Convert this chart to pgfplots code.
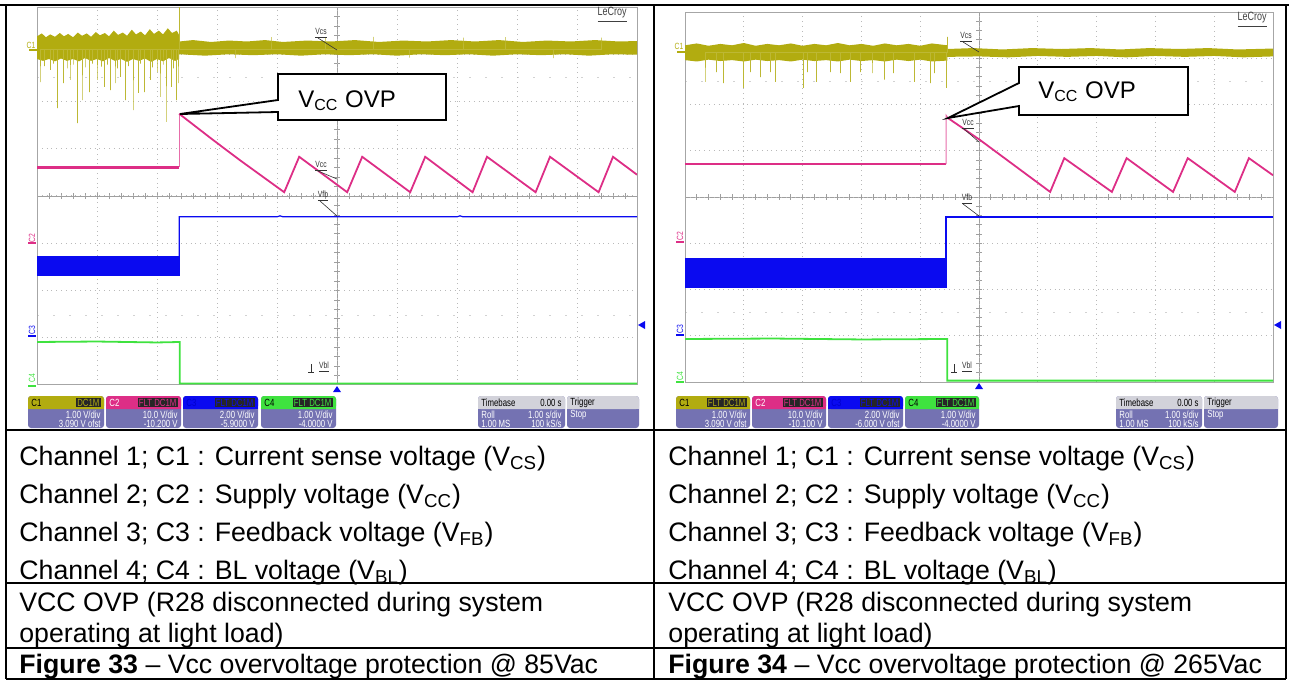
\documentclass[border=0pt]{standalone}
\usepackage{fontspec}
\setmainfont{Liberation Sans}
\newfontfamily\narrowfont{Liberation Sans}[FakeStretch=0.75]
\usepackage{pgfplots}
\pgfplotsset{compat=1.18}

\definecolor{colive}{HTML}{B2AC10}
\definecolor{cmag}{HTML}{DD2E86}
\definecolor{cblue}{HTML}{0A0AF0}
\definecolor{cgreen}{HTML}{3FE23F}
\definecolor{boxbody}{HTML}{7472B2}
\definecolor{boxhead}{HTML}{D2D2DA}

\newcommand\boxfont{\narrowfont\fontsize{5.2}{6}\selectfont}
\newcommand\lblfont{\narrowfont\fontsize{4.5}{5}\selectfont}
\newcommand\tabfont{\fontsize{13.35}{16}\selectfont}

% channel box: left, right, colour, name, name colour, badge, line 1, line 2
\newcommand\chbox[8]{%
  \fill[boxbody, rounded corners=1.5pt] (#1,396) rectangle (#2,428);
  \fill[#3, rounded corners=1.5pt] (#1,396) rectangle (#2,409);
  \fill[#3] (#1,403) rectangle (#2,409);
  \node[anchor=west, inner sep=0pt, text=#5, font=\boxfont] at ({#1+3},402.5) {#4};
  \node[anchor=east, inner sep=0.6pt, fill=black!85, text=#3, font=\boxfont] at ({#2-3},402.5) {#6};
  \node[anchor=east, inner sep=0pt, text=white, font=\boxfont] at ({#2-3},414.5) {#7};
  \node[anchor=east, inner sep=0pt, text=white, font=\boxfont] at ({#2-3},423.5) {#8};
}
% timebase + trigger boxes: timebase left, right, trigger left, right
\newcommand\tbbox[4]{%
  \fill[boxbody, rounded corners=1.5pt] (#1,396) rectangle (#2,428);
  \fill[boxhead, rounded corners=1.5pt] (#1,396) rectangle (#2,409);
  \fill[boxhead] (#1,403) rectangle (#2,409);
  \node[anchor=west, inner sep=0pt, font=\boxfont] at ({#1+3},402.5) {Timebase};
  \node[anchor=east, inner sep=0pt, font=\boxfont] at ({#2-3},402.5) {0.00 s};
  \node[anchor=west, inner sep=0pt, text=white, font=\boxfont] at ({#1+3},414.5) {Roll};
  \node[anchor=east, inner sep=0pt, text=white, font=\boxfont] at ({#2-3},414.5) {1.00 s/div};
  \node[anchor=west, inner sep=0pt, text=white, font=\boxfont] at ({#1+3},423.5) {1.00 MS};
  \node[anchor=east, inner sep=0pt, text=white, font=\boxfont] at ({#2-3},423.5) {100 kS/s};
  \fill[boxbody, rounded corners=1.5pt] (#3,396) rectangle (#4,428);
  \fill[boxhead, rounded corners=1.5pt] (#3,396) rectangle (#4,409);
  \fill[boxhead] (#3,403) rectangle (#4,409);
  \node[anchor=west, inner sep=0pt, font=\boxfont] at ({#3+3},402.5) {Trigger};
  \node[anchor=west, inner sep=0pt, text=white, font=\boxfont] at ({#3+3},414.5) {Stop};
}

\pgfplotsset{
  scopegrid/.style={
    scale only axis, anchor=north west,
    xmin=0, xmax=10, ymin=0, ymax=8,
    xtick={0,...,10}, ytick={0,...,8},
    xticklabels={}, yticklabels={},
    major tick length=0pt,
    grid=major,
    major grid style={gray!55, dotted, line width=0.5pt},
    axis line style={gray!70, line width=0.5pt},
  },
}

\begin{document}
\begin{tikzpicture}
\path[use as bounding box] (0,0) rectangle (644.5pt,-340.5pt);

% ---------- background decorations in pixel units ----------
\begin{scope}[x=0.5pt, y=-0.5pt]
  % centre axes with small ticks, scope 1
  \draw[gray!75, line width=0.5pt] (37,196) -- (637,196) (337,7) -- (337,385);
  \foreach \i in {1,...,49} \draw[gray!75, line width=0.4pt] ({37+12*\i},193) -- ({37+12*\i},199);
  \foreach \i in {1,...,39} \draw[gray!75, line width=0.4pt] (334,{7+9.45*\i}) -- (340,{7+9.45*\i});
  \draw[gray!35, dash pattern=on 1pt off 7pt] (37,77) -- (637,77) (37,315) -- (637,315);
  % centre axes, scope 2
  \draw[gray!75, line width=0.5pt] (685,197) -- (1273,197) (979,12) -- (979,382);
  \foreach \i in {1,...,49} \draw[gray!75, line width=0.4pt] ({685+11.76*\i},194) -- ({685+11.76*\i},200);
  \foreach \i in {1,...,39} \draw[gray!75, line width=0.4pt] (976,{12+9.25*\i}) -- (982,{12+9.25*\i});
  \draw[gray!35, dash pattern=on 1pt off 7pt] (685,81) -- (1273,81) (685,312) -- (1273,312);
\end{scope}

% ---------- scope 1 : 85 Vac ----------
\begin{axis}[scopegrid, at={(18.5pt,-3.5pt)}, width=300pt, height=189pt]
  % C1 current sense band
  \addplot[fill=colive, draw=none] coordinates {
    (0,7.38)(0.08,7.44)(0.15,7.36)(0.22,7.42)(0.3,7.37)(0.38,7.45)(0.45,7.38)(0.52,7.43)
    (0.6,7.36)(0.68,7.46)(0.75,7.39)(0.83,7.44)(0.9,7.37)(0.98,7.47)(1.05,7.4)(1.13,7.45)
    (1.2,7.38)(1.28,7.5)(1.35,7.41)(1.43,7.46)(1.5,7.39)(1.58,7.52)(1.65,7.42)(1.73,7.48)
    (1.8,7.4)(1.88,7.53)(1.95,7.43)(2.03,7.5)(2.1,7.42)(2.18,7.55)(2.25,7.45)(2.33,7.5)(2.37,7.4)
    (2.37,7.27)(2.6,7.3)(2.9,7.26)(3.2,7.29)(3.5,7.27)(3.8,7.3)(4.1,7.26)(4.5,7.29)(4.9,7.27)
    (5.3,7.3)(5.7,7.26)(6.1,7.29)(6.5,7.27)(6.9,7.3)(7.3,7.27)(7.7,7.3)(8.1,7.26)(8.5,7.29)
    (8.9,7.27)(9.3,7.3)(9.7,7.27)(10,7.28)
    (10,6.99)(9.6,7.0)(9.2,6.97)(8.8,7.0)(8.4,6.98)(8.0,7.0)(7.6,6.97)(7.2,7.0)(6.8,6.98)
    (6.4,7.0)(6.0,6.97)(5.6,7.0)(5.2,6.98)(4.8,7.0)(4.4,6.97)(4.0,7.0)(3.6,6.98)(3.2,7.0)
    (2.8,6.97)(2.37,7.0)
    (2.37,6.9)(2.3,6.86)(2.2,6.92)(2.1,6.85)(2.0,6.9)(1.9,6.84)(1.8,6.91)(1.7,6.86)(1.6,6.9)
    (1.5,6.84)(1.4,6.9)(1.3,6.86)(1.2,6.92)(1.1,6.85)(1.0,6.9)(0.9,6.86)(0.8,6.92)(0.7,6.85)
    (0.6,6.9)(0.5,6.86)(0.4,6.91)(0.3,6.85)(0.2,6.9)(0.1,6.86)(0,6.9)
  } -- cycle;
  % C1 spikes
  \addplot[colive!85, line width=0.45pt] coordinates {
    (0.05,7.1)(0.05,6.41)(0.05,7.1)(0.12,7.1)(0.12,6.75)(0.12,7.1)(0.217,7.1)(0.217,6.67)(0.217,7.1)
    (0.28,7.1)(0.28,6.8)(0.28,7.1)(0.333,7.1)(0.333,5.86)(0.333,7.1)(0.433,7.1)(0.433,6.39)(0.433,7.1)
    (0.5,7.1)(0.5,6.7)(0.5,7.1)(0.55,7.1)(0.55,6.46)(0.55,7.1)(0.6,7.1)(0.6,6.78)(0.6,7.1)
    (0.667,7.1)(0.667,5.54)(0.667,7.1)(0.75,7.1)(0.75,6.03)(0.75,7.1)(0.8,7.1)(0.8,6.72)(0.8,7.1)
    (0.867,7.1)(0.867,6.2)(0.867,7.1)(0.93,7.1)(0.93,6.8)(0.93,7.1)(1.0,7.1)(1.0,6.46)(1.0,7.1)
    (1.07,7.1)(1.07,6.74)(1.07,7.1)(1.117,7.1)(1.117,6.31)(1.117,7.1)(1.17,7.1)(1.17,6.78)(1.17,7.1)
    (1.217,7.1)(1.217,6.24)(1.217,7.1)(1.3,7.1)(1.3,6.39)(1.3,7.1)(1.34,7.1)(1.34,6.7)(1.34,7.1)
    (1.383,7.1)(1.383,6.52)(1.383,7.1)(1.467,7.1)(1.467,6.03)(1.467,7.1)(1.53,7.1)(1.53,6.75)(1.53,7.1)
    (1.6,7.1)(1.6,5.82)(1.6,7.1)(1.683,7.1)(1.683,6.18)(1.683,7.1)(1.72,7.1)(1.72,6.8)(1.72,7.1)
    (1.783,7.1)(1.783,6.2)(1.783,7.1)(1.883,7.1)(1.883,6.46)(1.883,7.1)(1.93,7.1)(1.93,6.72)(1.93,7.1)
    (2.0,7.1)(2.0,6.62)(2.0,7.1)(2.05,7.1)(2.05,6.1)(2.05,7.1)(2.1,7.1)(2.1,6.78)(2.1,7.1)
    (2.15,7.1)(2.15,5.57)(2.15,7.1)(2.233,7.1)(2.233,6.31)(2.233,7.1)(2.28,7.1)(2.28,6.7)(2.28,7.1)
    (2.317,7.1)(2.317,6.03)(2.317,7.1)(2.35,7.1)(2.35,6.39)(2.35,7.1)(2.37,7.1)(2.37,8.0)(2.37,7.1)
    (3.3,7.1)(3.3,6.92)(3.3,7.1)(3.9,7.1)(3.9,7.36)(3.9,7.1)(4.8,7.1)(4.8,7.35)(4.8,7.1)
    (5.6,7.1)(5.6,7.37)(5.6,7.1)(6.2,7.1)(6.2,6.93)(6.2,7.1)(7.1,7.1)(7.1,7.35)(7.1,7.1)
    (7.8,7.1)(7.8,7.36)(7.8,7.1)(8.6,7.1)(8.6,6.92)(8.6,7.1)(9.4,7.1)(9.4,7.35)(9.4,7.1)
  };
  % C2 supply voltage
  \addplot[cmag, line width=1.4pt] coordinates {(0,4.61)(2.37,4.61)};
  \addplot[cmag!70, line width=0.5pt] coordinates {(2.37,4.61)(2.37,5.74)};
  \addplot[cmag, line width=0.9pt] coordinates {
    (2.37,5.74)(2.93,5.19)(3.38,4.76)(4.12,4.08)(4.37,4.83)(5.17,4.08)(5.42,4.83)(6.22,4.08)
    (6.47,4.83)(7.26,4.08)(7.5,4.83)(8.31,4.08)(8.55,4.83)(9.36,4.08)(9.6,4.83)(10,4.45)};
  % C3 feedback voltage
  \addplot[fill=cblue, draw=cblue, line width=0.4pt] coordinates {(0,2.31)(2.37,2.31)(2.37,2.73)(0,2.73)} -- cycle;
  \addplot[cblue, line width=0.6pt] coordinates {(2.37,2.73)(2.37,3.56)(4,3.56)(4.05,3.58)(4.1,3.56)(7,3.56)(7.05,3.58)(7.1,3.56)(10,3.56)};
  % C4 BL voltage
  \addplot[cgreen, line width=0.9pt] coordinates {(0,0.91)(1,0.92)(2,0.9)(2.38,0.91)(2.38,0.03)(10,0.03)};
\end{axis}

% ---------- scope 2 : 265 Vac ----------
\begin{axis}[scopegrid, at={(342.5pt,-6pt)}, width=294pt, height=185pt]
  \addplot[fill=colive, draw=none] coordinates {
    (0,7.28)(0.2,7.32)(0.4,7.27)(0.6,7.31)(0.8,7.28)(1.0,7.33)(1.2,7.27)(1.4,7.31)(1.6,7.28)
    (1.8,7.32)(2.0,7.27)(2.2,7.31)(2.4,7.28)(2.6,7.33)(2.8,7.28)(3.0,7.31)(3.2,7.27)(3.4,7.32)
    (3.6,7.28)(3.8,7.31)(4.0,7.27)(4.2,7.32)(4.46,7.28)
    (4.46,7.2)(4.9,7.22)(5.4,7.19)(5.9,7.22)(6.4,7.2)(6.9,7.22)(7.4,7.19)(7.9,7.22)(8.4,7.2)
    (8.9,7.22)(9.4,7.19)(10,7.21)
    (10,7.04)(9.5,7.02)(9.0,7.05)(8.5,7.03)(8.0,7.05)(7.5,7.02)(7.0,7.05)(6.5,7.03)(6.0,7.05)
    (5.5,7.02)(5.0,7.04)(4.46,7.03)
    (4.46,6.95)(4.2,6.93)(4.0,6.97)(3.8,6.94)(3.6,6.97)(3.4,6.93)(3.2,6.96)(3.0,6.94)(2.8,6.97)
    (2.6,6.93)(2.4,6.96)(2.2,6.94)(2.0,6.97)(1.8,6.93)(1.6,6.96)(1.4,6.94)(1.2,6.97)(1.0,6.93)
    (0.8,6.96)(0.6,6.94)(0.4,6.97)(0.2,6.93)(0,6.96)
  } -- cycle;
  \addplot[colive!85, line width=0.45pt] coordinates {
    (0.34,7.12)(0.34,6.49)(0.34,7.12)(0.54,7.12)(0.54,6.70)(0.54,7.12)(0.65,7.12)(0.65,6.46)(0.65,7.12)
    (0.99,7.12)(0.99,6.36)(0.99,7.12)(1.11,7.12)(1.11,6.70)(1.11,7.12)(1.28,7.12)(1.28,6.59)(1.28,7.12)
    (1.45,7.12)(1.45,6.70)(1.45,7.12)(1.53,7.12)(1.53,6.49)(1.53,7.12)(2.01,7.12)(2.01,6.36)(2.01,7.12)
    (2.09,7.12)(2.09,6.70)(2.09,7.12)(2.24,7.12)(2.24,6.49)(2.24,7.12)(2.47,7.12)(2.47,6.70)(2.47,7.12)
    (2.64,7.12)(2.64,6.68)(2.64,7.12)(2.81,7.12)(2.81,6.49)(2.81,7.12)(2.98,7.12)(2.98,6.70)(2.98,7.12)
    (3.18,7.12)(3.18,6.68)(3.18,7.12)(3.4,7.12)(3.4,6.54)(3.4,7.12)(3.54,7.12)(3.54,6.68)(3.54,7.12)
    (3.91,7.12)(3.91,6.49)(3.91,7.12)(4.17,7.12)(4.17,6.46)(4.17,7.12)(4.25,7.12)(4.25,6.68)(4.25,7.12)
    (4.44,7.12)(4.44,6.36)(4.44,7.12)(4.46,7.12)(4.46,7.46)(4.46,7.12)
  };
  \addplot[cmag, line width=1.2pt] coordinates {(0,4.71)(4.44,4.71)};
  \addplot[cmag!70, line width=0.5pt] coordinates {(4.44,4.71)(4.44,5.77)(4.48,5.7)};
  \addplot[cmag, line width=0.9pt] coordinates {
    (4.48,5.7)(5.02,5.23)(6.21,4.11)(6.45,4.84)(7.26,4.11)(7.51,4.84)(8.3,4.11)(8.55,4.84)
    (9.35,4.11)(9.59,4.84)(10,4.47)};
  \addplot[fill=cblue, draw=cblue, line width=0.4pt] coordinates {(0,2.05)(4.44,2.05)(4.44,2.68)(0,2.68)} -- cycle;
  \addplot[cblue, line width=0.9pt] coordinates {(4.44,2.68)(4.44,3.57)(10,3.57)};
  \addplot[cgreen, line width=0.9pt] coordinates {(0,0.93)(1.5,0.94)(3,0.92)(4.46,0.93)(4.46,0.03)(10,0.03)};
\end{axis}

% ---------- overlays, labels, table ----------
\begin{scope}[x=0.5pt, y=-0.5pt]
  % channel markers scope 1
  \node[font=\lblfont, text=colive] at (31,45) {C1};
  \draw[colive, line width=0.6pt] (29,50) -- (37,50);
  \node[font=\lblfont, text=cmag, rotate=90] at (32,238) {C2};
  \draw[cmag, line width=0.6pt] (28,243) -- (36,243);
  \node[font=\lblfont, text=cblue, rotate=90] at (32,330) {C3};
  \draw[cblue, line width=0.6pt] (28,336) -- (36,336);
  \node[font=\lblfont, text=cgreen, rotate=90] at (32,378) {C4};
  \draw[cgreen, line width=0.6pt] (28,386) -- (36,386);
  % channel markers scope 2
  \node[font=\lblfont, text=colive] at (679,46) {C1};
  \draw[colive, line width=0.6pt] (677,52) -- (685,52);
  \node[font=\lblfont, text=cmag, rotate=90] at (680,236) {C2};
  \draw[cmag, line width=0.6pt] (676,242) -- (684,242);
  \node[font=\lblfont, text=cblue, rotate=90] at (680,329) {C3};
  \draw[cblue, line width=0.6pt] (676,335) -- (684,335);
  \node[font=\lblfont, text=cgreen, rotate=90] at (680,376) {C4};
  \draw[cgreen, line width=0.6pt] (676,382) -- (684,382);

  % trace name labels
  \begin{scope}[gray!40!black, line width=0.3pt]
    \node[font=\lblfont] at (321,33) {\underline{Vcs}};
    \draw (318,38) -- (337,50);
    \node[font=\lblfont] at (321,166) {\underline{Vcc}};
    \draw (318,171) -- (337,179);
    \node[font=\lblfont] at (323,196) {\underline{Vfb}};
    \draw (320,201) -- (337,216);
    \node[font=\lblfont] at (324,367) {\underline{Vbl}};
    \draw (311,364) -- (311,372) (308,372) -- (314,372);
    \node[font=\lblfont] at (966,37) {\underline{Vcs}};
    \draw (963,42) -- (979,52);
    \node[font=\lblfont] at (968,124) {\underline{Vcc}};
    \draw (964,129) -- (979,142);
    \node[font=\lblfont] at (967,199) {\underline{Vfb}};
    \draw (963,204) -- (979,216);
    \node[font=\lblfont] at (967,367) {\underline{Vbl}};
    \draw (954,364) -- (954,372) (951,372) -- (957,372);
  \end{scope}
  \node[font=\narrowfont\fontsize{6}{7}\selectfont, text=gray!50!black] at (612,15) {\underline{LeCroy}};
  \node[font=\narrowfont\fontsize{6}{7}\selectfont, text=gray!50!black] at (1252,20) {\underline{LeCroy}};

  % markers
  \fill[cblue] (638,325) -- (645,321) -- (645,329) -- cycle;
  \fill[cblue] (1274,325) -- (1281,321) -- (1281,329) -- cycle;
  \fill[cblue] (337,386) -- (333,392) -- (341,392) -- cycle;
  \fill[cblue] (979,383) -- (975,389) -- (983,389) -- cycle;

  % callouts
  \draw[line width=0.9pt, fill=white] (278,74) -- (446,74) -- (446,120) -- (278,120) -- (278,112) -- (180,114) -- (278,100) -- cycle;
  \node[anchor=base west, inner sep=0pt, font=\fontsize{12}{14}\selectfont] at (298,107) {V\textsubscript{CC} OVP};
  \draw[line width=0.9pt, fill=white] (1019,67) -- (1188,67) -- (1188,115) -- (1019,115) -- (1019,106) -- (948,118) -- (1019,83) -- cycle;
  \node[anchor=base west, inner sep=0pt, font=\fontsize{12}{14}\selectfont] at (1038,98) {V\textsubscript{CC} OVP};

  % status boxes scope 1
  \chbox{28}{104}{colive}{C1}{black}{DC1M}{1.00 V/div}{3.090 V ofst}
  \chbox{106}{181}{cmag}{C2}{white}{FLT DC1M}{10.0 V/div}{-10.200 V}
  \chbox{183}{258}{cblue}{C3}{blue!80!black}{FLT DC1M}{2.00 V/div}{-5.9000 V}
  \chbox{261}{336}{cgreen}{C4}{black}{FLT DC1M}{1.00 V/div}{-4.0000 V}
  \tbbox{478}{565}{567}{639}
  % status boxes scope 2
  \chbox{676}{750}{colive}{C1}{black}{FLT DC1M}{1.00 V/div}{3.090 V ofst}
  \chbox{752}{826}{cmag}{C2}{white}{FLT DC1M}{10.0 V/div}{-10.100 V}
  \chbox{828}{903}{cblue}{C3}{blue!80!black}{FLT DC1M}{2.00 V/div}{-6.000 V ofst}
  \chbox{905}{979}{cgreen}{C4}{black}{FLT DC1M}{1.00 V/div}{-4.0000 V}
  \tbbox{1116}{1202}{1204}{1278}

  % table rules
  \begin{scope}[line width=1.1pt, black]
    \draw (0,5) -- (1289,5);
    \draw (6,5) -- (6,679) (654,5) -- (654,679) (1286,5) -- (1286,679);
    \draw (6,430) -- (1286,430) (6,583) -- (1286,583) (6,648) -- (1286,648) (6,679) -- (1286,679);
  \end{scope}

  % table text
  \foreach \xx/\fig/\ac in {19/33/85, 668/34/265} {
    \node[anchor=base west, inner sep=0pt, font=\tabfont] at (\xx,465) {Channel 1; C1 : Current sense voltage (V\textsubscript{CS})};
    \node[anchor=base west, inner sep=0pt, font=\tabfont] at (\xx,503) {Channel 2; C2 : Supply voltage (V\textsubscript{CC})};
    \node[anchor=base west, inner sep=0pt, font=\tabfont] at (\xx,541) {Channel 3; C3 : Feedback voltage (V\textsubscript{FB})};
    \node[anchor=base west, inner sep=0pt, font=\tabfont] at (\xx,579) {Channel 4; C4 : BL voltage (V\textsubscript{BL})};
    \node[anchor=base west, inner sep=0pt, font=\tabfont] at (\xx,611) {VCC OVP (R28 disconnected during system};
    \node[anchor=base west, inner sep=0pt, font=\tabfont] at (\xx,642) {operating at light load)};
    \node[anchor=base west, inner sep=0pt, font=\tabfont] at (\xx,673) {\textbf{Figure \fig} -- Vcc overvoltage protection @ \ac Vac};
  }
\end{scope}
\end{tikzpicture}
\end{document}
